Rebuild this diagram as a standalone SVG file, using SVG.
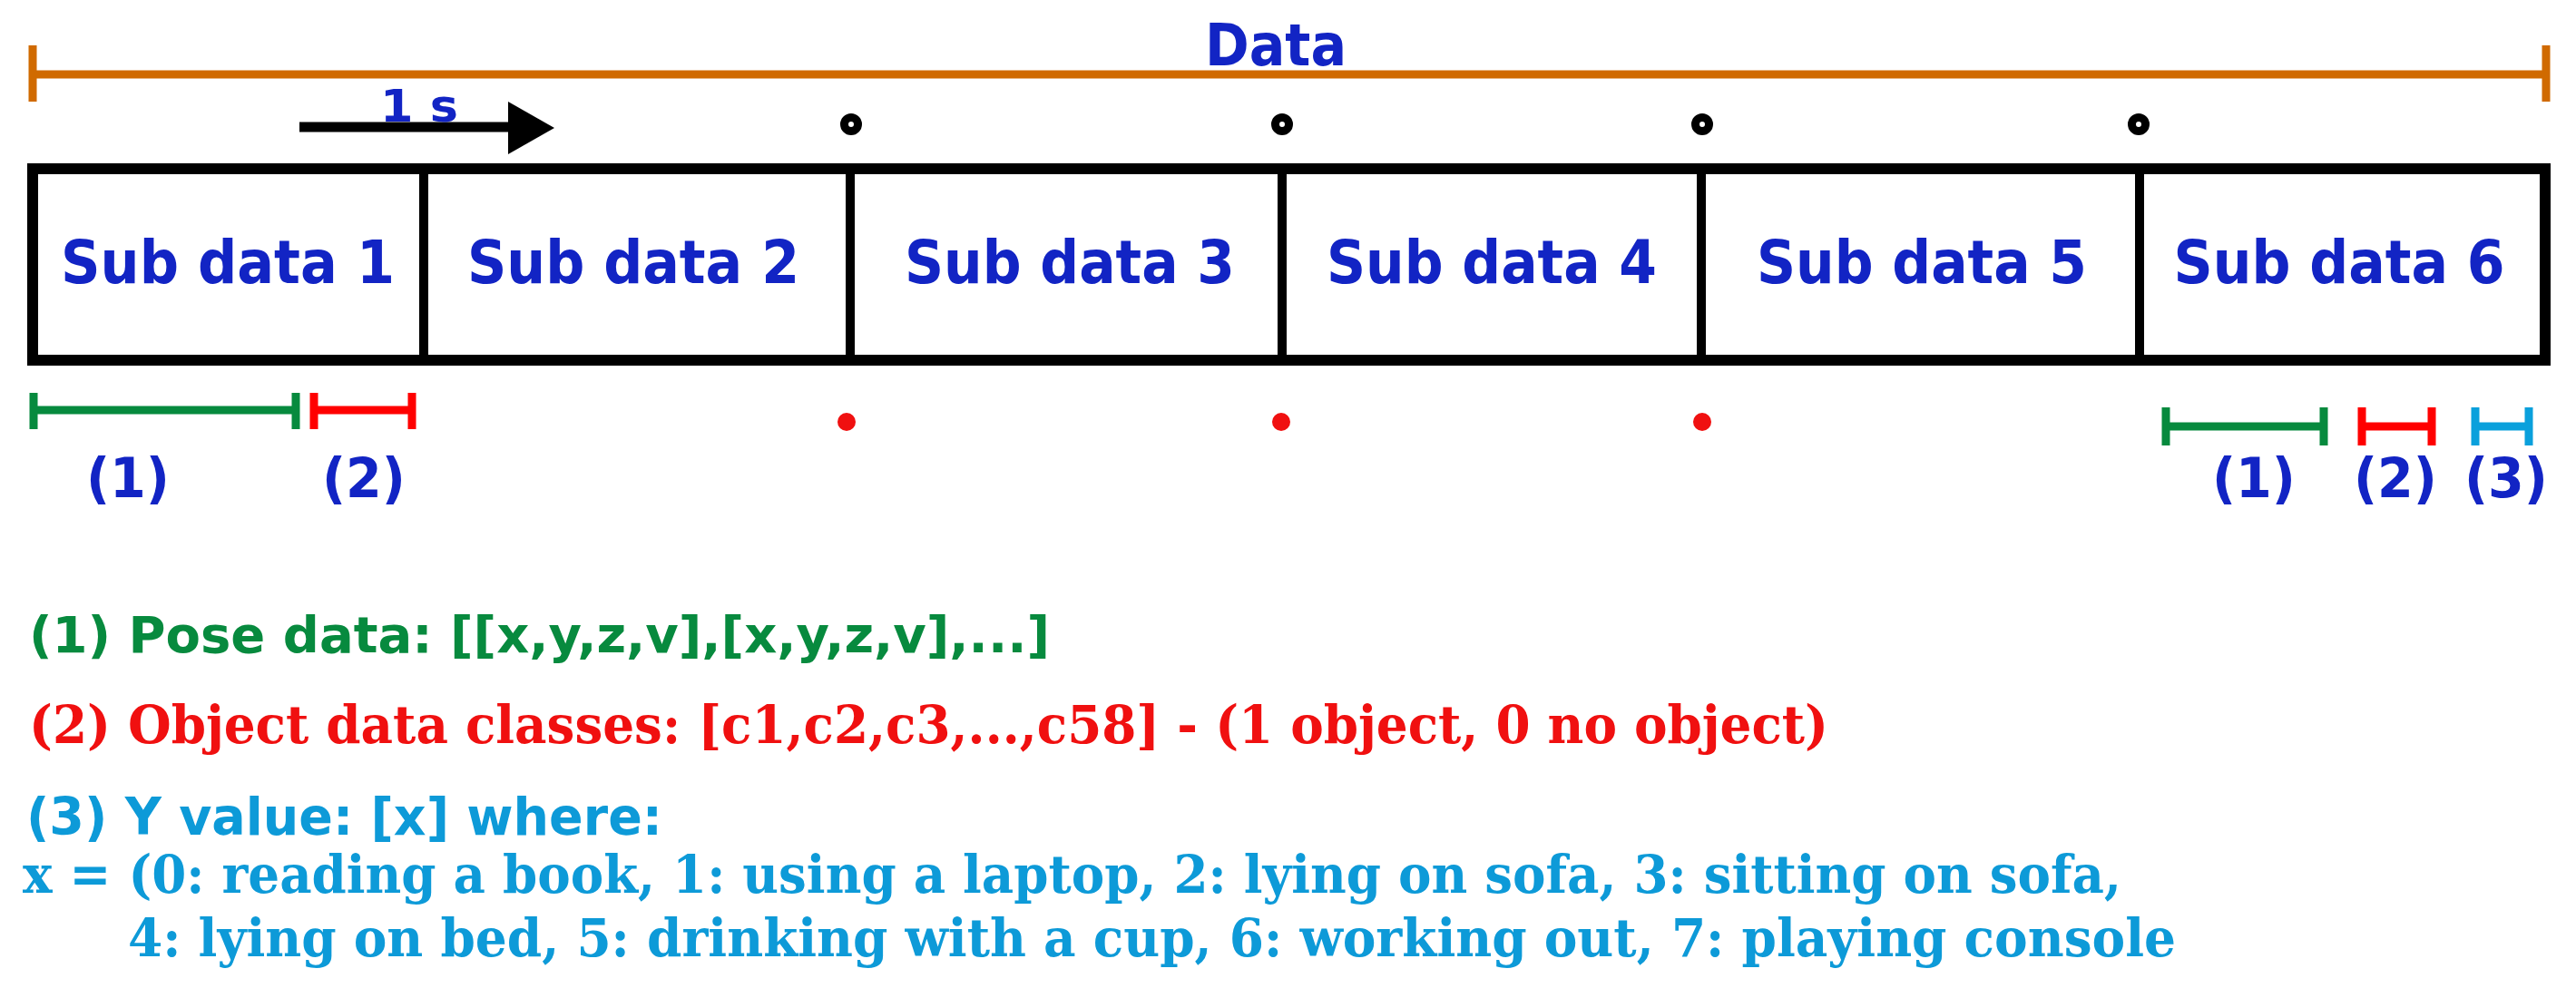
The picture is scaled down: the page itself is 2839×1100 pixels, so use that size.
<svg xmlns="http://www.w3.org/2000/svg" width="2839" height="1100" viewBox="0 0 2839 1100">
<style>
.hd{font-family:"DejaVu Sans Condensed","DejaVu Sans",Verdana,sans-serif;font-weight:bold;fill:#1224c4;text-anchor:middle}
.sub{font-size:66px}
.lbl{font-size:60px}
.sans{font-family:"DejaVu Sans Condensed","DejaVu Sans","Liberation Sans",sans-serif;font-weight:bold}
.slab{font-family:"DejaVu Serif Condensed","DejaVu Serif",serif;font-weight:bold}
.g{fill:#078a3e}.r{fill:#f01010}.c{fill:#0d9ad8}
.span{fill:none;stroke-width:9}
.dot{fill:#fff;stroke:#000;stroke-width:9}
.rdot{fill:#f01010}
</style>
<rect width="2839" height="1100" fill="#fff"/>
<g id="data-span">
<path class="span" stroke="#d06a00" d="M36 82H2806M36 50V112M2806 50V112" stroke-width="10"/>
<text class="hd" x="1406" y="72" font-size="64" textLength="156" lengthAdjust="spacingAndGlyphs">Data</text>
</g>
<g id="frame">
<rect x="36" y="186" width="2769" height="211" fill="#fff" stroke="#000" stroke-width="12"/>
<path d="M467 186V397M937 186V397M1413 186V397M1875 186V397M2358 186V397" stroke="#000" stroke-width="10"/>
</g>
<g id="sub1"><text class="hd sub" x="251" y="312" textLength="368" lengthAdjust="spacingAndGlyphs">Sub data 1</text></g>
<g id="sub2"><text class="hd sub" x="698" y="312" textLength="366" lengthAdjust="spacingAndGlyphs">Sub data 2</text></g>
<g id="sub3"><text class="hd sub" x="1179" y="312" textLength="364" lengthAdjust="spacingAndGlyphs">Sub data 3</text></g>
<g id="sub4"><text class="hd sub" x="1644" y="312" textLength="364" lengthAdjust="spacingAndGlyphs">Sub data 4</text></g>
<g id="sub5"><text class="hd sub" x="2118" y="312" textLength="364" lengthAdjust="spacingAndGlyphs">Sub data 5</text></g>
<g id="sub6"><text class="hd sub" x="2578" y="312" textLength="365" lengthAdjust="spacingAndGlyphs">Sub data 6</text></g>
<g id="connectors">
<line x1="330" y1="140" x2="565" y2="140" stroke="#000" stroke-width="11"/>
<polygon points="560,112 611,141 560,170" fill="#000"/>
</g>
<text class="hd" x="462" y="134" font-size="50" textLength="86" lengthAdjust="spacingAndGlyphs">1 s</text>
<g id="dots">
<circle class="dot" cx="938" cy="137" r="7.5"/>
<circle class="dot" cx="1413" cy="137" r="7.5"/>
<circle class="dot" cx="1876" cy="137" r="7.5"/>
<circle class="dot" cx="2357" cy="137" r="7.5"/>
<circle class="rdot" cx="933" cy="465" r="10"/>
<circle class="rdot" cx="1412" cy="465" r="10"/>
<circle class="rdot" cx="1876" cy="465" r="10"/>
</g>
<g id="spans-left">
<path class="span" stroke="#078a3e" d="M37 452H326M37 433V473M326 433V473"/>
<path class="span" stroke="#ff0000" d="M346 452H454M346 433V473M454 433V473"/>
<text class="hd lbl" x="141" y="548" textLength="92" lengthAdjust="spacingAndGlyphs">(1)</text>
<text class="hd lbl" x="401" y="548" textLength="92" lengthAdjust="spacingAndGlyphs">(2)</text>
</g>
<g id="spans-right">
<path class="span" stroke="#078a3e" d="M2387 470H2561M2387 449V491M2561 449V491"/>
<path class="span" stroke="#ff0000" d="M2603 470H2680M2603 449V491M2680 449V491"/>
<path class="span" stroke="#0aa0dc" d="M2728 470H2787M2728 449V491M2787 449V491"/>
<text class="hd lbl" x="2484" y="548" textLength="92" lengthAdjust="spacingAndGlyphs">(1)</text>
<text class="hd lbl" x="2640" y="548" textLength="92" lengthAdjust="spacingAndGlyphs">(2)</text>
<text class="hd lbl" x="2762" y="548" textLength="92" lengthAdjust="spacingAndGlyphs">(3)</text>
</g>
<g id="legend">
<text class="sans g" x="32" y="719" font-size="56" textLength="1125" lengthAdjust="spacingAndGlyphs">(1) Pose data: [[x,y,z,v],[x,y,z,v],...]</text>
<text class="slab r" x="32" y="819" font-size="57" textLength="1983" lengthAdjust="spacingAndGlyphs">(2) Object data classes: [c1,c2,c3,...,c58] - (1 object, 0 no object)</text>
<text class="sans c" x="29" y="920" font-size="57" textLength="701" lengthAdjust="spacingAndGlyphs">(3) Y value: [x] where:</text>
<text class="slab c" x="25" y="984" font-size="58" textLength="2313" lengthAdjust="spacingAndGlyphs">x = (0: reading a book, 1: using a laptop, 2: lying on sofa, 3: sitting on sofa,</text>
<text class="slab c" x="141" y="1054" font-size="58" textLength="2257" lengthAdjust="spacingAndGlyphs">4: lying on bed, 5: drinking with a cup, 6: working out, 7: playing console</text>
</g>
</svg>
